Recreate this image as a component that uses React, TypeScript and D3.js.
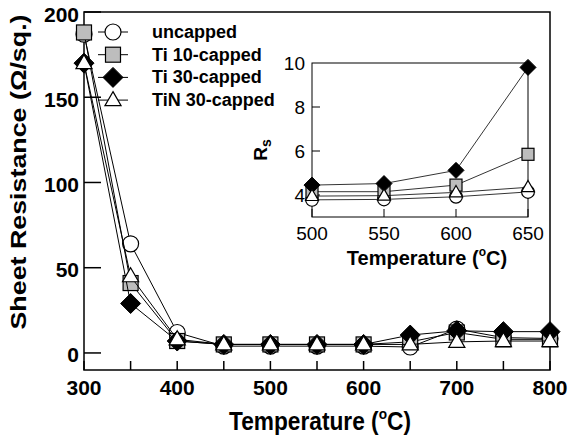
import React from 'react';
import * as d3 from 'd3';

// main plot data (Ω/sq.)
const temps = [300, 350, 400, 450, 500, 550, 600, 650, 700, 750, 800];
const uncapped = [187, 64, 12, 4, 4, 4, 4, 3.5, 14, 9, 8.5];
const ti10 = [188, 41, 7, 5, 5, 5, 5, 6.5, 12, 8, 8];
const ti30 = [170, 29, 7, 5, 5, 5, 5, 10.5, 13, 12.5, 12.5];
const tin30 = [170, 45, 8, 5, 5, 5, 5, 5, 6.5, 7, 7];

// inset data
const insetTemps = [500, 550, 600, 650];
const insetUncapped = [3.78, 3.8, 3.92, 4.14];
const insetTi10 = [4.15, 4.15, 4.45, 5.85];
const insetTi30 = [4.45, 4.52, 5.12, 9.8];
const insetTin30 = [3.95, 3.97, 4.12, 4.35];

const seriesNames = ['uncapped', 'Ti 10-capped', 'Ti 30-capped', 'TiN 30-capped'];
const symbols = ['circle', 'square', 'diamond', 'triangle'];

const mainYTicks = [0, 50, 100, 150, 200];
const mainXTicks = [300, 350, 400, 450, 500, 550, 600, 650, 700, 750, 800];
const mainXLabels = [300, 400, 500, 600, 700, 800];
const insetYTicks = [4, 6, 8, 10];
const insetXTicks = [500, 550, 600, 650];

const FONT = '"Liberation Sans", Arial, Helvetica, sans-serif';

function Marker({ kind, x, y, s = 1 }: { kind: string; x: number; y: number; s?: number }) {
  if (kind === 'circle')
    return <circle cx={x} cy={y} r={8 * s} fill="#fff" stroke="#000" strokeWidth={1.2} />;
  if (kind === 'square')
    return <rect x={x - 7.5 * s} y={y - 7.5 * s} width={15 * s} height={15 * s} fill="#bdbdbd" stroke="#000" strokeWidth={1.2} />;
  if (kind === 'diamond') {
    const r = 10 * s;
    return <path d={`M${x},${y - r}L${x + r},${y}L${x},${y + r}L${x - r},${y}Z`} fill="#000" stroke="#000" />;
  }
  const r = 8.5 * s;
  return <path d={`M${x},${y - r}L${x + r * 0.95},${y + r * 0.65}L${x - r * 0.95},${y + r * 0.65}Z`} fill="#fff" stroke="#000" strokeWidth={1.2} />;
}

function TempLabel({ x, y, size, sy = 1 }: { x: number; y: number; size: number; sy?: number }) {
  return (
    <text transform={`translate(${x},${y}) scale(1,${sy})`} textAnchor="middle" fontSize={size} fontWeight="bold" fontFamily={FONT}>
      Temperature (<tspan fontSize={size * 0.6} dy={-size * 0.45}>o</tspan>
      <tspan dy={size * 0.45}>C)</tspan>
    </text>
  );
}

export default function App() {
  const x = d3.scaleLinear().domain([300, 800]).range([84, 550]);
  const y = d3.scaleLinear().domain([-10, 200]).range([370, 12]);
  const ix = d3.scaleLinear().domain([500, 650]).range([312, 528]);
  const iy = d3.scaleLinear().domain([3, 10]).range([217, 63]);

  const mainSeries = [uncapped, ti10, ti30, tin30];
  const insetSeries = [insetUncapped, insetTi10, insetTi30, insetTin30];
  const line = d3.line<number>().x((_, i) => x(temps[i])).y(d => y(d));
  const iline = d3.line<number>().x((_, i) => ix(insetTemps[i])).y(d => iy(d));

  return (
    <svg width={571} height={438} style={{ display: 'block', position: 'absolute', left: 0, top: 0 }} fontFamily={FONT}>
      <rect width={571} height={438} fill="#fff" />
      {/* main frame */}
      <rect x={84} y={12} width={466} height={358} fill="none" stroke="#000" strokeWidth={1.5} />
      {mainYTicks.map(t => (
        <g key={t}>
          <line x1={84} x2={101} y1={y(t)} y2={y(t)} stroke="#000" strokeWidth={1.5} />
          <text x={79} y={y(t) + 9.5} textAnchor="end" fontSize={21} fontWeight="bold">{t}</text>
        </g>
      ))}
      {mainXTicks.map(t => (
        <line key={t} x1={x(t)} x2={x(t)} y1={370} y2={361} stroke="#000" strokeWidth={1.5} />
      ))}
      {mainXLabels.map(t => (
        <text key={t} x={x(t)} y={395} textAnchor="middle" fontSize={21} fontWeight="bold">{t}</text>
      ))}
      <TempLabel x={320} y={430} size={22.7} sy={1.12} />
      <text transform="translate(26,172) scale(1,1.22) rotate(-90)" textAnchor="middle" fontSize={22} fontWeight="bold">
        Sheet Resistance (Ω/sq.)
      </text>

      {mainSeries.map((s, k) => (
        <g key={k}>
          <path d={line(s) || ''} fill="none" stroke="#000" strokeWidth={1} />
          {s.map((v, i) => <Marker key={i} kind={symbols[k]} x={x(temps[i])} y={y(v)} />)}
        </g>
      ))}

      {/* legend */}
      {seriesNames.map((n, k) => {
        const ly = 32 + k * 22.7;
        return (
          <g key={n}>
            <line x1={98} x2={128} y1={ly} y2={ly} stroke="#000" strokeWidth={1} />
            <Marker kind={symbols[k]} x={113} y={ly} />
            <text x={152} y={ly + 6} fontSize={18} fontWeight="bold">{n}</text>
          </g>
        );
      })}

      {/* inset */}
      <rect x={312} y={63} width={216} height={154} fill="#fff" stroke="#000" strokeWidth={1} />
      {insetYTicks.map(t => (
        <g key={t}>
          {t !== 10 && <line x1={312} x2={320} y1={iy(t)} y2={iy(t)} stroke="#000" />}
          <text x={305} y={iy(t) + 7} textAnchor="end" fontSize={19}>{t}</text>
        </g>
      ))}
      {insetXTicks.map(t => (
        <g key={t}>
          <line x1={ix(t)} x2={ix(t)} y1={217} y2={209} stroke="#000" />
          <text x={ix(t)} y={240} textAnchor="middle" fontSize={19}>{t}</text>
        </g>
      ))}
      <TempLabel x={427} y={265} size={20} />
      <text transform="translate(267,150) rotate(-90)" textAnchor="middle" fontSize={19} fontWeight="bold">
        R<tspan fontSize={14} dy={4}>s</tspan>
      </text>
      {insetSeries.map((s, k) => (
        <g key={k}>
          <path d={iline(s) || ''} fill="none" stroke="#000" strokeWidth={0.8} />
          {s.map((v, i) => <Marker key={i} kind={symbols[k]} x={ix(insetTemps[i])} y={iy(v)} s={0.8} />)}
        </g>
      ))}
    </svg>
  );
}
